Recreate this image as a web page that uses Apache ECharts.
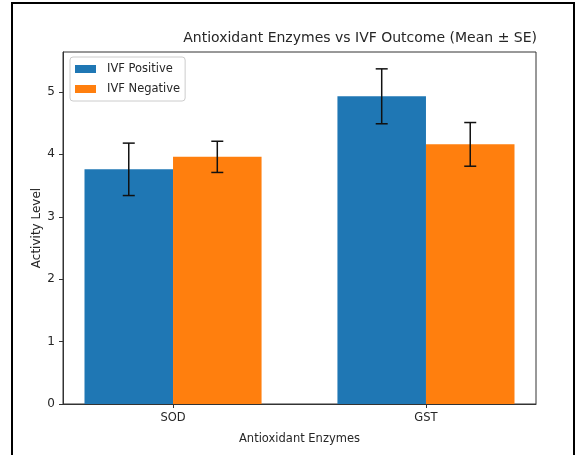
<!DOCTYPE html>
<html>
<head>
<meta charset="utf-8">
<script src="https://cdn.jsdelivr.net/npm/echarts@6/dist/echarts.min.js"></script>
<style>
html,body{margin:0;padding:0;background:#fff;}
#chart{width:578px;height:455px;}
</style>
</head>
<body>
<div id="chart"></div>
<script>
const categories = ['SOD', 'GST'];
const seriesNames = ['IVF Positive', 'IVF Negative'];
const positiveMeans = [3.76, 4.93];
const positiveSE = [0.42, 0.44];
const negativeMeans = [3.96, 4.16];
const negativeSE = [0.25, 0.35];
const yTicks = [0, 1, 2, 3, 4, 5];
const xTicks = [0, 1];

const BAR_W = 0.35;
const colors = ['#1f77b4', '#ff7f0e'];
const font = 'DejaVu Sans';
const textColor = '#262626';

function makeData(means, ses, offset) {
  return categories.map((c, i) => [i + offset, means[i], ses[i]]);
}

function renderBar(params, api) {
  const x = api.value(0), y = api.value(1), se = api.value(2);
  const p0 = api.coord([x - BAR_W / 2, y]);
  const p1 = api.coord([x + BAR_W / 2, 0]);
  const fill = api.visual('color');
  const top = api.coord([x, y + se]);
  const bot = api.coord([x, y - se]);
  const cap = 6;
  const ls = { stroke: '#111', lineWidth: 1.5 };
  return {
    type: 'group',
    children: [
      { type: 'rect', shape: { x: p0[0], y: p0[1], width: p1[0] - p0[0], height: p1[1] - p0[1] }, style: { fill: fill } },
      { type: 'line', shape: { x1: top[0], y1: top[1], x2: bot[0], y2: bot[1] }, style: ls, z2: 10 },
      { type: 'line', shape: { x1: top[0] - cap, y1: top[1], x2: top[0] + cap, y2: top[1] }, style: ls, z2: 10 },
      { type: 'line', shape: { x1: bot[0] - cap, y1: bot[1], x2: bot[0] + cap, y2: bot[1] }, style: ls, z2: 10 }
    ]
  };
}

const chart = echarts.init(document.getElementById('chart'));
chart.setOption({
  animation: false,
  backgroundColor: '#fff',
  textStyle: { fontFamily: font },
  title: {
    text: 'Antioxidant Enzymes vs IVF Outcome (Mean ± SE)',
    right: 41, top: 31, padding: 0,
    textStyle: { fontFamily: font, fontSize: 14, fontWeight: 'normal', color: textColor }
  },
  legend: {
    data: seriesNames.map(n => ({ name: n, icon: 'rect' })),
    orient: 'vertical',
    left: 70, top: 57,
    itemWidth: 21, itemHeight: 8, itemGap: 8,
    backgroundColor: '#fff',
    borderColor: '#ccc', borderWidth: 1, borderRadius: 3,
    padding: [6, 5, 6, 5],
    textStyle: { fontFamily: font, fontSize: 11.5, color: textColor, padding: [0, 0, 0, 6] }
  },
  grid: {
    left: 63, right: 42, top: 52, bottom: 51,
    show: true, borderColor: '#333', borderWidth: 1, backgroundColor: 'transparent'
  },
  xAxis: {
    type: 'value', min: -0.435, max: 1.435,
    axisLine: { show: true, onZero: false, lineStyle: { color: '#333', width: 1 } },
    axisTick: { show: true, customValues: xTicks, length: 4, lineStyle: { color: '#333' } },
    axisLabel: { customValues: xTicks, formatter: v => categories[Math.round(v)], fontFamily: font, fontSize: 11.5, color: textColor, margin: 8 },
    splitLine: { show: false },
    name: 'Antioxidant Enzymes', nameLocation: 'middle', nameGap: 29, nameMoveOverlap: false,
    nameTextStyle: { fontFamily: font, fontSize: 11.5, color: textColor }
  },
  yAxis: {
    type: 'value', min: 0, max: 5.64,
    axisLine: { show: true, onZero: false, lineStyle: { color: '#333', width: 1 } },
    axisTick: { show: true, customValues: yTicks, length: 4, lineStyle: { color: '#333' } },
    axisLabel: { customValues: yTicks, fontFamily: font, fontSize: 12, color: textColor, margin: 8 },
    splitLine: { show: false },
    name: 'Activity Level', nameLocation: 'middle', nameGap: 20, nameRotate: 90, nameMoveOverlap: false,
    nameTextStyle: { fontFamily: font, fontSize: 12, color: textColor }
  },
  graphic: [{
    type: 'rect', silent: true, z: 100,
    shape: { x: 12, y: 3, width: 562, height: 480 },
    style: { fill: null, stroke: '#000', lineWidth: 2 }
  }],
  series: [
    {
      type: 'custom', name: seriesNames[0], renderItem: renderBar,
      itemStyle: { color: colors[0] },
      encode: { x: 0, y: 1 },
      data: makeData(positiveMeans, positiveSE, -BAR_W / 2)
    },
    {
      type: 'custom', name: seriesNames[1], renderItem: renderBar,
      itemStyle: { color: colors[1] },
      encode: { x: 0, y: 1 },
      data: makeData(negativeMeans, negativeSE, BAR_W / 2)
    }
  ]
});
</script>
</body>
</html>
